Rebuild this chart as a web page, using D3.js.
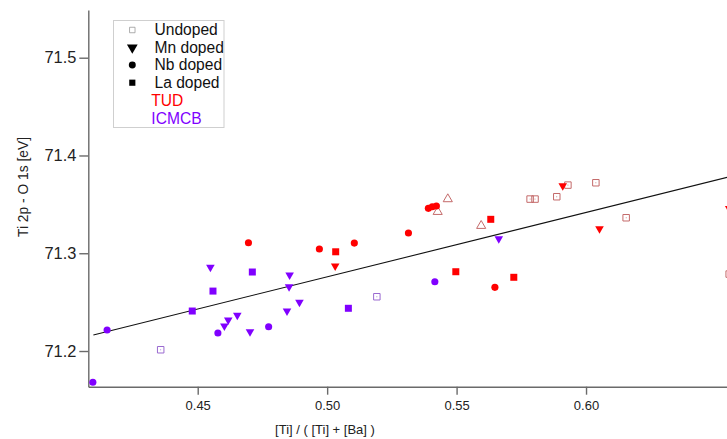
<!DOCTYPE html>
<html>
<head>
<meta charset="utf-8">
<script src="https://cdn.jsdelivr.net/npm/d3@7"></script>
<style>
  html, body { margin: 0; padding: 0; background: #fff; }
  svg { display: block; font-family: "Liberation Sans", Arial, sans-serif; }
</style>
</head>
<body>
<svg id="chart" width="727" height="439"></svg>
<script>
// ---------- data ----------
const xTicks = [0.45, 0.50, 0.55, 0.60];
const yTicks = [71.2, 71.3, 71.4, 71.5];
const xTitle = "[Ti] / ( [Ti] + [Ba] )";
const yTitle = "Ti 2p - O 1s [eV]";

// ICMCB (purple)
const icmcbNbX = [0.4095, 0.4150, 0.4578, 0.4774, 0.5416];
const icmcbNbY = [71.168, 71.2215, 71.2184, 71.2248, 71.2709];
const icmcbMnX = [0.4549, 0.4603, 0.4618, 0.4653, 0.4702, 0.4855, 0.4853, 0.4893, 0.4845, 0.5663];
const icmcbMnY = [71.2856, 71.2256, 71.2317, 71.2365, 71.2197, 71.2777, 71.2657, 71.2498, 71.2409, 71.3148];
const icmcbLaX = [0.4479, 0.4559, 0.4711, 0.5082];
const icmcbLaY = [71.2409, 71.2613, 71.2808, 71.2437];
const icmcbUndX = [0.4357, 0.5192];
const icmcbUndY = [71.2013, 71.2555];

// TUD (red)
const tudNbX = [0.4696, 0.4970, 0.5105, 0.5314, 0.5391, 0.5406, 0.5422, 0.5648];
const tudNbY = [71.3107, 71.3043, 71.3104, 71.3207, 71.3459, 71.3475, 71.3483, 71.2651];
const tudLaX = [0.5033, 0.5497, 0.5632, 0.5721];
const tudLaY = [71.3015, 71.2811, 71.3347, 71.2754];
const tudMnX = [0.5031, 0.5910, 0.6052, 0.6553];
const tudMnY = [71.2869, 71.3690, 71.3251, 71.3459];
const tudUndX = [0.5784, 0.5803, 0.5887, 0.5930, 0.6038, 0.6155, 0.6553];
const tudUndY = [71.3554, 71.3554, 71.3578, 71.3697, 71.3721, 71.3363, 71.2787];
const tudOpenTriX = [0.5466, 0.5427, 0.5595];
const tudOpenTriY = [71.3554, 71.3424, 71.3281];

// linear fit
const fitSlope = 0.6585;
const fitIntercept = 70.9466;
const fitXRange = [0.4097, 0.67];

const legendItems = ["Undoped", "Mn doped", "Nb doped", "La doped"];
const legendGroups = ["TUD", "ICMCB"];

// ---------- layout ----------
const RED = "#ff0000", PURPLE = "#8000ff";
const RED_OPEN = "#c46a6a", PURPLE_OPEN = "#9a6ad0";
const AXIS = "#6a6a6a";

const svg = d3.select("#chart");
const x = d3.scaleLinear().domain([0.40774, 0.6672]).range([88.3, 760]);
const y = d3.scaleLinear().domain([71.1635, 71.5488]).range([386.7, 10]);

// axes
const xAxis = d3.axisBottom(x).tickValues(xTicks).tickFormat(d3.format(".2f")).tickSizeInner(8).tickSizeOuter(0).tickPadding(6);
const gx = svg.append("g").attr("transform", `translate(0,${y.range()[0]})`).call(xAxis);
gx.selectAll("path,line").attr("stroke", AXIS).attr("stroke-width", 1.4);
gx.selectAll("text").attr("font-size", 13).attr("fill", "#222");

const yAxis = d3.axisLeft(y).tickValues(yTicks).tickFormat(d3.format(".1f")).tickSizeInner(9).tickSizeOuter(0).tickPadding(3);
const gy = svg.append("g").attr("transform", `translate(${x.range()[0]},0)`).call(yAxis);
gy.selectAll("path,line").attr("stroke", AXIS).attr("stroke-width", 1.4);
gy.selectAll("text").attr("font-size", 16.4).attr("fill", "#222");

svg.append("text").attr("x", 325).attr("y", 434).attr("text-anchor", "middle")
  .attr("font-size", 13).attr("fill", "#222").text(xTitle);
svg.append("text").attr("transform", "translate(28,187) rotate(-90)").attr("text-anchor", "middle")
  .attr("font-size", 13.8).attr("fill", "#222").text(yTitle);

// fit line
svg.append("line")
  .attr("x1", x(fitXRange[0])).attr("y1", y(fitIntercept + fitSlope * fitXRange[0]))
  .attr("x2", x(fitXRange[1])).attr("y2", y(fitIntercept + fitSlope * fitXRange[1]))
  .attr("stroke", "#111").attr("stroke-width", 1.1);

// markers
const sym = {
  circle: d3.symbol().type(d3.symbolCircle).size(40),
  square: d3.symbol().type(d3.symbolSquare).size(49),
  tri: d3.symbol().type(d3.symbolTriangle).size(32),
  openSq: d3.symbol().type(d3.symbolSquare).size(42),
  openTri: d3.symbol().type(d3.symbolTriangle).size(36)
};
function zip(xs, ys) { return xs.map((v, i) => [v, ys[i]]); }
function plot(xs, ys, kind, color, open, down) {
  const g = svg.append("g");
  const pts = zip(xs, ys);
  g.selectAll("path").data(pts).join("path")
    .attr("d", sym[kind]())
    .attr("transform", d => `translate(${x(d[0])},${y(d[1])})${down ? " rotate(180)" : ""}`)
    .attr("fill", open ? "none" : color)
    .attr("stroke", open ? color : "none")
    .attr("stroke-width", open ? 1 : 0);
  if (kind === "openSq") {
    g.selectAll("circle").data(pts).join("circle")
      .attr("cx", d => x(d[0])).attr("cy", d => y(d[1])).attr("r", 0.5).attr("fill", color);
  }
}
plot(icmcbUndX, icmcbUndY, "openSq", PURPLE_OPEN, true, false);
plot(tudUndX, tudUndY, "openSq", RED_OPEN, true, false);
plot(tudOpenTriX, tudOpenTriY, "openTri", RED_OPEN, true, false);
plot(icmcbLaX, icmcbLaY, "square", PURPLE, false, false);
plot(icmcbMnX, icmcbMnY, "tri", PURPLE, false, true);
plot(icmcbNbX, icmcbNbY, "circle", PURPLE, false, false);
plot(tudLaX, tudLaY, "square", RED, false, false);
plot(tudMnX, tudMnY, "tri", RED, false, true);
plot(tudNbX, tudNbY, "circle", RED, false, false);

// legend
const lg = svg.append("g");
lg.append("rect").attr("x", 113.5).attr("y", 20.5).attr("width", 110.5).attr("height", 107)
  .attr("fill", "#fff").attr("stroke", "#cfcfcf").attr("stroke-width", 1);
const rowY = [30, 47.5, 65, 82.7, 100.3, 118.3];
const lsym = [
  d3.symbol().type(d3.symbolSquare).size(30)(),
  d3.symbol().type(d3.symbolTriangle).size(50)(),
  d3.symbol().type(d3.symbolCircle).size(38)(),
  d3.symbol().type(d3.symbolSquare).size(38)()
];
legendItems.forEach((t, i) => {
  lg.append("path").attr("d", lsym[i])
    .attr("transform", `translate(132.3,${rowY[i]})${i === 1 ? " rotate(180)" : ""}`)
    .attr("fill", i === 0 ? "none" : "#000").attr("stroke", i === 0 ? "#999" : "none").attr("stroke-width", 0.8);
  lg.append("text").attr("x", 154.5).attr("y", rowY[i]).attr("dy", "0.35em")
    .attr("font-size", 15.6).attr("fill", "#111").text(t);
});
legendGroups.forEach((t, i) => {
  lg.append("text").attr("x", 151.3).attr("y", rowY[4 + i]).attr("dy", "0.35em")
    .attr("font-size", 15.6).attr("fill", i === 0 ? RED : PURPLE).text(t);
});
</script>
</body>
</html>
